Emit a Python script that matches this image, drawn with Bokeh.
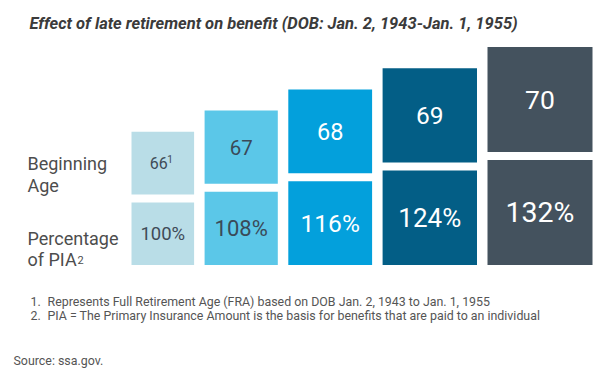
from bokeh.plotting import figure
from bokeh.models import Range1d, Label, ColumnDataSource
from bokeh.core.properties import value
from bokeh.embed import file_html
from bokeh.resources import INLINE
import numpy as np

# ---- data ----
ages = [66, 67, 68, 69, 70]
age_notes = ["1", "", "", "", ""]
pia_pct = [100, 108, 116, 124, 132]
row_labels = [["Beginning", "Age"], ["Percentage", "of PIA"]]
title = "Effect of late retirement on benefit (DOB: Jan. 2, 1943-Jan. 1, 1955)"
footnotes = ["Represents Full Retirement Age (FRA) based on DOB Jan. 2, 1943 to Jan. 1, 1955",
             "PIA = The Primary Insurance Amount is the basis for benefits that are paid to an individual"]
source_note = "Source: ssa.gov."

# ---- style / layout ----
W, H = 608, 374
fill_colors = ["#b9dde7", "#5bc7e8", "#03a0dc", "#035e86", "#44525e"]
text_colors = ["#3f4b57", "#3a4a58", "#ffffff", "#ffffff", "#ffffff"]
age_font = [16, 20.5, 23.5, 24.5, 26.5]
pct_font = [18.5, 22, 24.5, 26, 28.5]
LABEL_FONT = "Roboto"
NUM_FONT = "Roboto"

p = figure(width=W, height=H, output_backend="svg", toolbar_location=None,
           x_range=Range1d(0, W), y_range=Range1d(H, 0),
           min_border=0)
p.axis.visible = False
p.xgrid.visible = False
p.ygrid.visible = False
p.outline_line_color = None
p.background_fill_color = "white"
p.border_fill_color = "white"

# box side scales linearly with % of PIA
pct = np.array(pia_pct, dtype=float)
side = 62.6 + 1.325 * (pct - 100)
gap_x, gap_y = 10.5, 8.0
left = 131 + np.concatenate([[0], np.cumsum(side[:-1] + gap_x)])
right = left + side
bottom_row_bottom = np.full(len(ages), 264.5)
bottom_row_top = bottom_row_bottom - side
top_row_bottom = bottom_row_top - gap_y
top_row_top = top_row_bottom - side
cx = (left + right) / 2
cy_top = (top_row_top + top_row_bottom) / 2
cy_bot = (bottom_row_top + bottom_row_bottom) / 2

src = ColumnDataSource(dict(
    left=left, right=right,
    b_top=bottom_row_top, b_bot=bottom_row_bottom,
    t_top=top_row_top, t_bot=top_row_bottom,
    cx=cx, cy_top=cy_top, cy_bot=cy_bot,
    fill=fill_colors, tcol=text_colors,
    age_txt=[str(a) for a in ages],
    pct_txt=[f"{v}%" for v in pia_pct],
    age_fs=[f"{s}px" for s in age_font], pct_fs=[f"{s}px" for s in pct_font],
    age_x=[c - (4 if n else 0) for c, n in zip(cx, age_notes)],
))

p.quad(left="left", right="right", top="t_top", bottom="t_bot", source=src,
       fill_color="fill", line_color=None)
p.quad(left="left", right="right", top="b_top", bottom="b_bot", source=src,
       fill_color="fill", line_color=None)

p.text(x="age_x", y="cy_top", text="age_txt", source=src, text_color="tcol",
       text_font=value(NUM_FONT), text_font_size="age_fs",
       text_align="center", text_baseline="middle")
p.text(x="cx", y="cy_bot", text="pct_txt", source=src, text_color="tcol",
       text_font=value(NUM_FONT), text_font_size="pct_fs",
       text_align="center", text_baseline="middle")
# superscript notes
p.text(x=[c + 4.5 for c in cx], y=[c - 4 for c in cy_top], text=age_notes,
       text_color=text_colors[0], text_font=value(NUM_FONT),
       text_font_size=value("10px"), text_align="left", text_baseline="middle")

# row labels
row_base = [[163, 184.5], [238, 259]]
for lines, bases in zip(row_labels, row_base):
    for t, b in zip(lines, bases):
        p.add_layout(Label(x=27, y=b, text=t, text_font=LABEL_FONT,
                           text_font_size="18px", text_color="#4d4d4d",
                           text_baseline="alphabetic", text_align="left"))
p.add_layout(Label(x=77, y=259, text="2", text_font=LABEL_FONT,
                   text_font_size="11px", text_color="#4d4d4d",
                   text_baseline="alphabetic", text_align="left"))

# title
p.add_layout(Label(x=29, y=23, text=title, text_font=LABEL_FONT,
                   text_font_size="16.5px", text_font_style="bold italic",
                   text_color="#3b3b3b", text_baseline="alphabetic"))

# footnotes
FN_SIZE = "12.4px"
for i, (t, b) in enumerate(zip(footnotes, [301, 315])):
    p.add_layout(Label(x=30, y=b, text=f"{i+1}.", text_font=LABEL_FONT,
                       text_font_size=FN_SIZE, text_color="#555555",
                       text_baseline="alphabetic"))
    p.add_layout(Label(x=47, y=b, text=t, text_font=LABEL_FONT,
                       text_font_size=FN_SIZE, text_color="#555555",
                       text_baseline="alphabetic"))
p.add_layout(Label(x=13, y=360, text=source_note, text_font=LABEL_FONT,
                   text_font_size=FN_SIZE, text_color="#555555",
                   text_baseline="alphabetic"))

open("out.html", "w").write(file_html(p, INLINE))
